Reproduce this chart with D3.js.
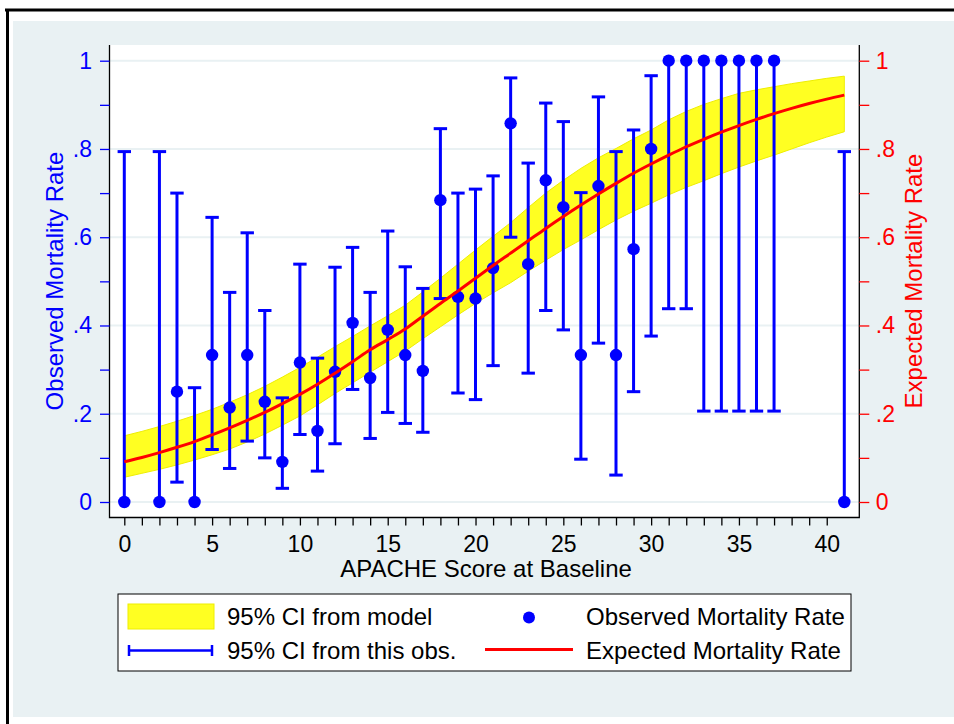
<!DOCTYPE html>
<html>
<head>
<meta charset="utf-8">
<script src="https://cdn.jsdelivr.net/npm/d3@7"></script>
<style>
  html, body { margin: 0; padding: 0; background: #ffffff; }
  svg { display: block; font-family: "Liberation Sans", Arial, Helvetica, sans-serif; }
</style>
</head>
<body>
<svg id="chart" width="954" height="724"></svg>
<script>
// ---------- DATA ----------
const fitScore = [0,1,2,3,4,5,6,7,8,9,10,11,12,13,14,15,16,17,18,19,20,21,22,23,24,25,26,27,28,29,30,31,32,33,34,35,36,37,38,39,40,41];
const fitExpected = [.091,.101,.112,.124,.137,.152,.168,.185,.203,.223,.244,.267,.292,.318,.345,.368,.392,.421,.450,.478,.507,.536,.564,.592,.620,.647,.673,.698,.722,.745,.766,.786,.805,.822,.838,.853,.867,.880,.892,.903,.913,.922];
const fitLower = [.056,.065,.074,.084,.095,.107,.120,.136,.154,.174,.195,.220,.246,.270,.294,.318,.342,.370,.397,.424,.450,.474,.497,.523,.548,.572,.594,.617,.639,.659,.677,.696,.713,.728,.744,.759,.773,.786,.800,.814,.827,.839];
const fitUpper = [.150,.160,.171,.183,.196,.210,.226,.243,.262,.283,.305,.328,.352,.375,.399,.422,.446,.476,.507,.539,.571,.602,.633,.667,.700,.729,.756,.780,.801,.823,.843,.866,.885,.901,.914,.926,.934,.941,.948,.954,.960,.965];

const obsScore = [0,2,3,4,5,6,7,8,9,10,11,12,13,14,15,16,17,18,19,20,21,22,23,24,25,26,27,28,29,30,31,32,33,34,35,36,37,41];
const obsRate  = [0,0,.25,0,.333,.214,.333,.227,.091,.316,.161,.295,.406,.281,.390,.333,.297,.684,.465,.461,.530,.858,.539,.729,.668,.333,.716,.333,.573,.800,1,1,1,1,1,1,1,0];
const obsLow   = [0,0,.045,0,.119,.076,.138,.100,.031,.153,.070,.132,.255,.144,.203,.178,.158,.461,.247,.232,.309,.600,.292,.434,.390,.097,.360,.061,.250,.376,.438,.438,.206,.206,.206,.206,.206,0];
const obsHigh  = [.794,.794,.700,.259,.645,.475,.610,.434,.236,.539,.326,.532,.577,.475,.614,.533,.484,.846,.700,.709,.739,.961,.768,.904,.862,.701,.918,.794,.843,.966,1,1,1,1,1,1,1,.794];

const xTickValues = [0,1,2,3,4,5,6,7,8,9,10,11,12,13,14,15,16,17,18,19,20,21,22,23,24,25,26,27,28,29,30,31,32,33,34,35,36,37,38,39,40];
const xTickLabels = [0,5,10,15,20,25,30,35,40];
const yTickValues = [0,.1,.2,.3,.4,.5,.6,.7,.8,.9,1];
const yTickLabels = {0:"0", 0.2:".2", 0.4:".4", 0.6:".6", 0.8:".8", 1:"1"};
const yGrid = [0,.2,.4,.6,.8,1];

const legendItems = ["95% CI from model","95% CI from this obs.","Observed Mortality Rate","Expected Mortality Rate"];
const xTitle = "APACHE Score at Baseline";
const yTitleLeft = "Observed Mortality Rate";
const yTitleRight = "Expected Mortality Rate";

// ---------- STYLE ----------
const BG = "#e9f1f3";
const BLUE = "#0000ff";
const RED = "#ff0000";
const YELLOW = "#ffff22";

const svg = d3.select("#chart");

// outer frame
svg.append("rect").attr("x",13).attr("y",21).attr("width",941).attr("height",696).attr("fill",BG);
svg.append("line").attr("x1",5).attr("x2",954).attr("y1",10).attr("y2",10).attr("stroke","#000").attr("stroke-width",3);
svg.append("line").attr("x1",7.5).attr("x2",7.5).attr("y1",9).attr("y2",724).attr("stroke","#000").attr("stroke-width",3);

// plot region
const PL = 109.5, PR = 859.3, PT = 45, PB = 517.5;
svg.append("rect").attr("x",PL).attr("y",PT).attr("width",PR-PL).attr("height",PB-PT).attr("fill","#fff");

const x = d3.scaleLinear().domain([0,41]).range([124.3,844.3]);
const y = d3.scaleLinear().domain([0,1]).range([502,60.7]);

// gridlines
svg.append("g").selectAll("line").data(yGrid).join("line")
  .attr("x1",PL).attr("x2",PR).attr("y1",d=>y(d)).attr("y2",d=>y(d))
  .attr("stroke",BG).attr("stroke-width",2);

// model band
const band = fitScore.map((s,i)=>({s, lo:fitLower[i], hi:fitUpper[i], e:fitExpected[i]}));
svg.append("path").datum(band)
  .attr("d", d3.area().x(d=>x(d.s)).y0(d=>y(d.lo)).y1(d=>y(d.hi)))
  .attr("fill",YELLOW).attr("stroke","#eeee00").attr("stroke-width",1);

// error bars
const obs = obsScore.map((s,i)=>({s, v:obsRate[i], lo:obsLow[i], hi:obsHigh[i]}));
const gBars = svg.append("g").attr("stroke",BLUE).attr("stroke-width",3);
gBars.selectAll("line.v").data(obs).join("line").attr("class","v")
  .attr("x1",d=>x(d.s)).attr("x2",d=>x(d.s)).attr("y1",d=>y(d.lo)).attr("y2",d=>y(d.hi));
gBars.selectAll("line.cl").data(obs.filter(d=>d.lo!==d.v)).join("line").attr("class","cl")
  .attr("x1",d=>x(d.s)-6.7).attr("x2",d=>x(d.s)+6.7).attr("y1",d=>y(d.lo)).attr("y2",d=>y(d.lo));
gBars.selectAll("line.ch").data(obs.filter(d=>d.hi!==d.v)).join("line").attr("class","ch")
  .attr("x1",d=>x(d.s)-6.7).attr("x2",d=>x(d.s)+6.7).attr("y1",d=>y(d.hi)).attr("y2",d=>y(d.hi));

// observed points
svg.append("g").selectAll("circle").data(obs).join("circle")
  .attr("cx",d=>x(d.s)).attr("cy",d=>y(d.v)).attr("r",6.2).attr("fill",BLUE);

// expected line
svg.append("path").datum(band)
  .attr("d", d3.line().x(d=>x(d.s)).y(d=>y(d.e)).curve(d3.curveMonotoneX))
  .attr("fill","none").attr("stroke",RED).attr("stroke-width",3);

// frame lines (left, bottom, right)
svg.append("path").attr("d",`M${PL},${PT}V${PB}H${PR}V${PT}`).attr("fill","none").attr("stroke","#000").attr("stroke-width",1.3);

// axes
const fmtY = d => { const k = Math.round(d*10)/10; return yTickLabels[k] !== undefined ? yTickLabels[k] : ""; };
const gL = svg.append("g").attr("transform",`translate(${PL},0)`)
  .call(d3.axisLeft(y).tickValues(yTickValues).tickFormat(fmtY).tickSize(9.5).tickPadding(8));
gL.select(".domain").remove();
gL.selectAll("line").attr("stroke",BLUE).attr("stroke-width",1.3);
gL.selectAll("text").attr("fill",BLUE).style("font-size","23px").style("font-family","Liberation Sans, Arial, sans-serif");

const gR = svg.append("g").attr("transform",`translate(${PR},0)`)
  .call(d3.axisRight(y).tickValues(yTickValues).tickFormat(fmtY).tickSize(10).tickPadding(6.5));
gR.select(".domain").remove();
gR.selectAll("line").attr("stroke",RED).attr("stroke-width",1.3);
gR.selectAll("text").attr("fill",RED).style("font-size","23px").style("font-family","Liberation Sans, Arial, sans-serif");

const gB = svg.append("g").attr("transform",`translate(0,${PB})`)
  .call(d3.axisBottom(x).tickValues(xTickValues).tickFormat(d => xTickLabels.includes(d) ? String(d) : "").tickSize(8).tickPadding(10));
gB.select(".domain").remove();
gB.selectAll("line").attr("stroke","#000").attr("stroke-width",1.3);
gB.selectAll("text").attr("fill","#000").style("font-size","23px").style("font-family","Liberation Sans, Arial, sans-serif");

// axis titles
svg.append("text").attr("x",486).attr("y",577).attr("text-anchor","middle")
  .style("font-size","24px").attr("fill","#000").text(xTitle);
svg.append("text").attr("transform","translate(62.7,281) rotate(-90)").attr("text-anchor","middle")
  .style("font-size","24px").attr("fill",BLUE).text(yTitleLeft);
svg.append("text").attr("transform","translate(921.7,281) rotate(-90)").attr("text-anchor","middle")
  .style("font-size","24px").attr("fill",RED).text(yTitleRight);

// legend
const lg = svg.append("g");
lg.append("rect").attr("x",118).attr("y",594).attr("width",733).attr("height",77).attr("fill","#fff").attr("stroke","#000").attr("stroke-width",1);
lg.append("rect").attr("x",128).attr("y",604).attr("width",86).attr("height",25).attr("fill",YELLOW).attr("stroke","#eeee00");
lg.append("line").attr("x1",128).attr("x2",213).attr("y1",650.5).attr("y2",650.5).attr("stroke",BLUE).attr("stroke-width",2.5);
lg.append("line").attr("x1",129).attr("x2",129).attr("y1",645).attr("y2",656).attr("stroke",BLUE).attr("stroke-width",2.5);
lg.append("line").attr("x1",212).attr("x2",212).attr("y1",645).attr("y2",656).attr("stroke",BLUE).attr("stroke-width",2.5);
lg.append("circle").attr("cx",529).attr("cy",617.5).attr("r",6).attr("fill",BLUE);
lg.append("line").attr("x1",485).attr("x2",573).attr("y1",649.5).attr("y2",649.5).attr("stroke",RED).attr("stroke-width",3);
const lpos = [[227,617],[227,650.5],[586,617],[586,650.5]];
lg.selectAll("text").data(legendItems).join("text")
  .attr("x",(d,i)=>lpos[i][0]).attr("y",(d,i)=>lpos[i][1]).attr("dy","0.35em")
  .style("font-size","24px").attr("fill","#000").text(d=>d);
</script>
</body>
</html>
